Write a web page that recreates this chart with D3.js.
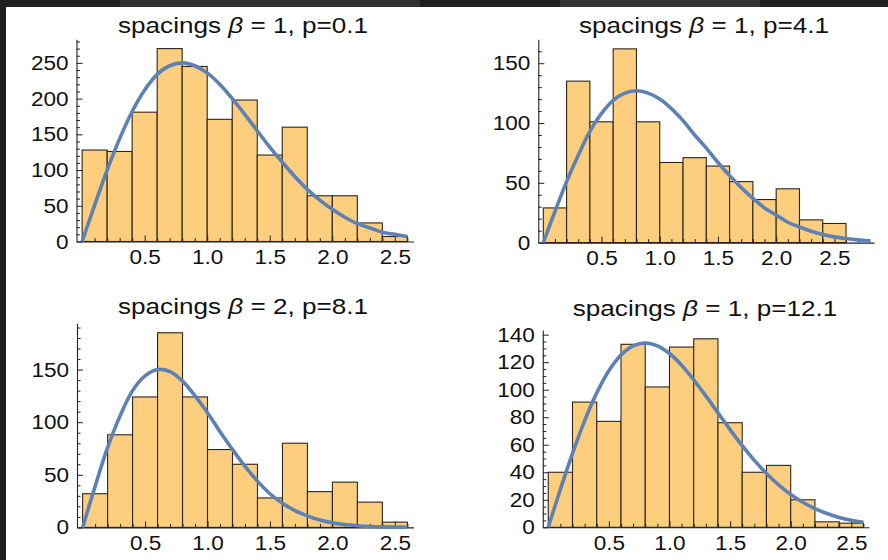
<!DOCTYPE html>
<html>
<head>
<meta charset="utf-8">
<script src="https://cdn.jsdelivr.net/npm/d3@7"></script>
<style>
  html, body { margin: 0; padding: 0; background: #1c201f; }
  svg { display: block; }
  text { font-family: "Liberation Sans", Arial, sans-serif; fill: #111; }
</style>
</head>
<body>
<svg id="chart" width="888" height="560"></svg>
<script>
// ---------- data ----------
const binStarts = [0, 0.2, 0.4, 0.6, 0.8, 1.0, 1.2, 1.4, 1.6, 1.8, 2.0, 2.2, 2.4];
const binWidth = 0.2;

const titlesPre = ["spacings ", "spacings ", "spacings ", "spacings "];
const titlesBeta = ["β", "β", "β", "β"];
const titlesPost = [" = 1, p=0.1", " = 1, p=4.1", " = 2, p=8.1", " = 1, p=12.1"];

const counts1 = [128, 126, 181, 270, 245, 171, 198, 121, 160, 64, 64, 26, 7];
const counts2 = [29, 135, 101, 162, 101, 67, 71, 64, 51, 36, 45, 19, 16];
const counts3 = [32, 88, 124, 185, 124, 74, 60, 28, 80, 34, 43, 24, 5];
const counts4 = [40, 91, 77, 133, 102, 131, 137, 76, 40, 45, 20, 4, 3];

const curveS1 = [0,0.1,0.2,0.3,0.4,0.5,0.6,0.7,0.8,0.9,1.0,1.1,1.2,1.3,1.4,1.5,1.6,1.7,1.8,1.9,2.0,2.1,2.2,2.3,2.4,2.5,2.6];
const curveY1 = [0,51,100,144,182,212,234,246,250,246,236,220,200,178,155,132,111,91,73,58,45,34,25,19,13,10,7];
const curveS2 = [0,0.1,0.2,0.3,0.4,0.5,0.6,0.7,0.8,0.9,1.0,1.1,1.2,1.3,1.4,1.5,1.6,1.7,1.8,1.9,2.0,2.1,2.2,2.3,2.4,2.5,2.6,2.7,2.8];
const curveY2 = [0,26,51,73,93,108,119,125,127,125,120,112,102,90,79,67,56,46,37,29,23,17,13,9.5,6.8,4.8,3.4,2.3,1.6];
const curveS3 = [0,0.1,0.2,0.3,0.4,0.5,0.6,0.7,0.8,0.9,1.0,1.1,1.2,1.3,1.4,1.5,1.6,1.7,1.8,1.9,2.0,2.1,2.2,2.3,2.4,2.5,2.6];
const curveY3 = [0,39,76,106,130,144,150,148,139,125,109,91,74,58,44,32,23,16,11,7,4.4,2.7,1.6,0.9,0.5,0.3,0.2];
const curveS4 = [0,0.1,0.2,0.3,0.4,0.5,0.6,0.7,0.8,0.9,1.0,1.1,1.2,1.3,1.4,1.5,1.6,1.7,1.8,1.9,2.0,2.1,2.2,2.3,2.4,2.5,2.6];
const curveY4 = [0,27.5,53.7,77.4,97.7,113.8,125.2,131.9,134,131.9,126.3,117.8,107.2,95.5,83.2,71,59.3,48.6,39.1,30.9,23.9,18.2,13.6,10,7.2,5.1,3.6];

const xTickLabels = [0.5, 1.0, 1.5, 2.0, 2.5];
const yTicks1 = [0, 50, 100, 150, 200, 250];
const yTicks2 = [0, 50, 100, 150];
const yTicks3 = [0, 50, 100, 150];
const yTicks4 = [0, 20, 40, 60, 80, 100, 120, 140];

// ---------- layout ----------
const panels = [
  { counts: counts1, cs: curveS1, cy: curveY1, yTicks: yTicks1, yMinorStep: 10,
    xDom: [-0.045, 2.65], xRange: [76.5, 413.6], yDom: [0, 283], yRange: [241.5, 39.3],
    titleX: 243, titleY: 32.5 },
  { counts: counts2, cs: curveS2, cy: curveY2, yTicks: yTicks2, yMinorStep: 10,
    xDom: [-0.043, 2.84], xRange: [538.3, 874], yDom: [0, 170], yRange: [242.6, 39.3],
    titleX: 704, titleY: 32.5 },
  { counts: counts3, cs: curveS3, cy: curveY3, yTicks: yTicks3, yMinorStep: 10,
    xDom: [-0.045, 2.65], xRange: [77, 413.6], yDom: [0, 194], yRange: [527.4, 323.3],
    titleX: 243, titleY: 314 },
  { counts: counts4, cs: curveS4, cy: curveY4, yTicks: yTicks4, yMinorStep: 5,
    xDom: [-0.045, 2.646], xRange: [542.8, 869], yDom: [0, 143.4], yRange: [527.3, 330],
    titleX: 705, titleY: 315.5 }
];

const titleStretch = 1.16;
const tickStretch = 1.1;
const tickFont = 20.5;
const titleFont = 22.5;

const svg = d3.select("#chart");

// background: dark photo frame + white panel
svg.append("rect").attr("x", 0).attr("y", 0).attr("width", 888).attr("height", 560).attr("fill", "#1d2120");
svg.append("rect").attr("x", 120).attr("y", 0).attr("width", 300).attr("height", 7).attr("fill", "#3a3e3d").attr("opacity", 0.6);
svg.append("rect").attr("x", 560).attr("y", 0).attr("width", 200).attr("height", 7).attr("fill", "#454948").attr("opacity", 0.5);
svg.append("rect").attr("x", 6).attr("y", 7).attr("width", 882).attr("height", 553).attr("fill", "#ffffff");

const barFill = "#FCCE7E";
const barStroke = "#2e2619";
const curveColor = "#5E81B5";

panels.forEach((p, i) => {
  const x = d3.scaleLinear().domain(p.xDom).range(p.xRange);
  const y = d3.scaleLinear().domain(p.yDom).range(p.yRange);
  const g = svg.append("g");

  // bars
  g.selectAll("rect.bar")
    .data(binStarts.map((s, k) => ({ s, c: p.counts[k] })))
    .join("rect")
    .attr("class", "bar")
    .attr("x", d => x(d.s))
    .attr("width", d => x(d.s + binWidth) - x(d.s))
    .attr("y", d => y(d.c))
    .attr("height", d => y(0) - y(d.c))
    .attr("fill", barFill)
    .attr("stroke", barStroke)
    .attr("stroke-width", 1.1);

  // axes (ticks inside)
  const xMinor = d3.range(0.1, p.xDom[1], 0.1).filter(v => Math.abs(v * 2 - Math.round(v * 2)) > 1e-6);
  g.append("g").attr("transform", `translate(0,${p.yRange[0]})`)
    .call(d3.axisBottom(x).tickValues(xMinor).tickSizeInner(-3.5).tickSizeOuter(0).tickFormat(""))
    .call(a => a.select(".domain").remove());
  const xAx = g.append("g").attr("transform", `translate(0,${p.yRange[0]})`)
    .call(d3.axisBottom(x).tickValues(xTickLabels).tickSizeInner(-6).tickSizeOuter(0).tickPadding(8)
      .tickFormat(d3.format(".1f")));
  xAx.selectAll("text").style("font-size", tickFont + "px").attr("fill", "#111")
    .attr("transform", `scale(${tickStretch},1)`);

  const yMinor = d3.range(0, p.yDom[1], p.yMinorStep).filter(v => !p.yTicks.includes(v));
  g.append("g").attr("transform", `translate(${p.xRange[0]},0)`)
    .call(d3.axisLeft(y).tickValues(yMinor).tickSizeInner(-3.5).tickSizeOuter(0).tickFormat(""))
    .call(a => a.select(".domain").remove());
  const yAx = g.append("g").attr("transform", `translate(${p.xRange[0]},0)`)
    .call(d3.axisLeft(y).tickValues(p.yTicks).tickSizeInner(-6).tickSizeOuter(0).tickPadding(8)
      .tickFormat(d3.format("d")));
  yAx.selectAll("text").style("font-size", tickFont + "px").attr("fill", "#111")
    .attr("x", -8 / tickStretch)
    .attr("transform", `scale(${tickStretch},1)`);

  g.selectAll(".domain").attr("stroke", "#222").attr("stroke-width", 1.1);
  g.selectAll(".tick line").attr("stroke", "#222").attr("stroke-width", 1);

  // curve
  const line = d3.line().x(d => x(d[0])).y(d => y(d[1])).curve(d3.curveCatmullRom);
  g.append("path")
    .datum(p.cs.map((s, k) => [s, p.cy[k]]))
    .attr("d", line)
    .attr("fill", "none")
    .attr("stroke", curveColor)
    .attr("stroke-width", 3.6)
    .attr("stroke-linecap", "butt");

  // title
  const t = g.append("text")
    .attr("transform", `translate(${p.titleX},${p.titleY}) scale(${titleStretch},1)`)
    .attr("text-anchor", "middle")
    .style("font-size", titleFont + "px");
  t.append("tspan").text(titlesPre[i]);
  t.append("tspan").style("font-style", "italic").text(titlesBeta[i]);
  t.append("tspan").text(titlesPost[i]);
});
</script>
</body>
</html>
